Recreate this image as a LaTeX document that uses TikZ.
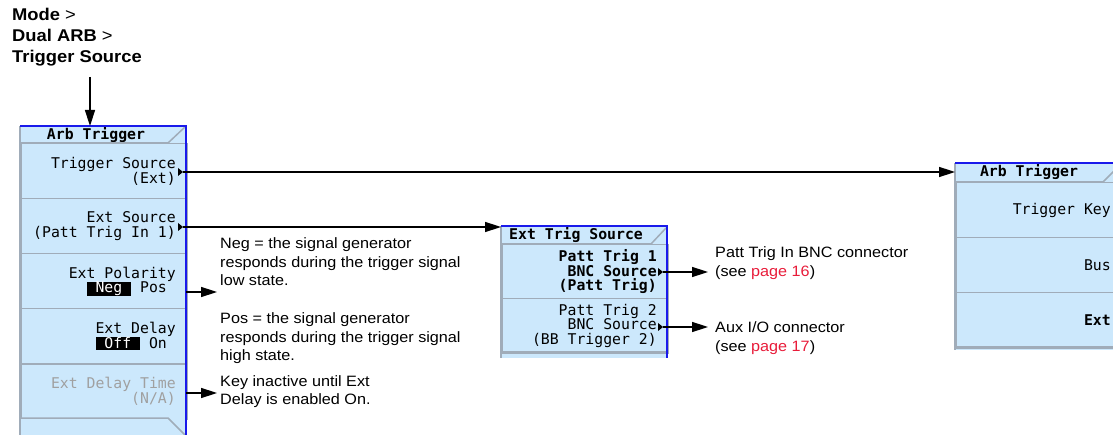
\documentclass[tikz,border=0pt]{standalone}
\usepackage{fontspec}
\setmainfont{Liberation Sans}[FakeStretch=1.08]
\newfontfamily\keyfont{DejaVu Sans Mono}
\usetikzlibrary{arrows.meta}
\definecolor{keyblue}{RGB}{204,232,252}
\definecolor{sepgray}{RGB}{160,172,185}
\definecolor{panelblue}{RGB}{25,25,235}
\definecolor{linkred}{RGB}{232,28,58}
\definecolor{dimtext}{RGB}{160,160,160}
\newcommand\invkey[1]{{\setlength{\fboxsep}{0pt}\colorbox{black}{\rule[-2pt]{0pt}{12pt}\makebox[44.5pt]{\textcolor{white}{#1}}}}}
\begin{document}
\begin{tikzpicture}[x=1pt,y=-1pt,
  keybox/.style={draw=sepgray, line width=1.5pt, fill=keyblue, minimum width=166pt, minimum height=55pt, anchor=north west, inner sep=0pt, text width=144pt, align=flush right, font=\keyfont\fontsize{14.8}{14.5}\selectfont},
  keybold/.style={keybox, font=\keyfont\bfseries\fontsize{14.8}{14.5}\selectfont},
  titlebar/.style={fill=keyblue, minimum width=166pt, minimum height=17pt, anchor=north west, inner sep=0pt},
  titletext/.style={font=\keyfont\bfseries\fontsize{14.8}{14.5}\selectfont, inner sep=0pt},
  sepline/.style={draw=sepgray, line width=1.5pt},
  panelrim/.style={draw=panelblue, line width=2.5pt},
  arr/.style={draw=black, line width=1.5pt, -{Triangle[length=16pt,width=10pt]}},
  notetext/.style={anchor=north west, inner sep=0pt, align=flush left, font=\fontsize{15}{18.5}\selectfont},
]
\useasboundingbox (0,0) rectangle (1113,435);
\clip (0,0) rectangle (1113,435);

% heading
\node[notetext, font=\fontsize{17}{20.75}\selectfont] (hd) at (12,8.3) {\textbf{Mode} >\\\textbf{Dual ARB} >\\\textbf{Trigger Source}};
\coordinate (hdarrow) at (90,77);

% ---------- panel A ----------
\fill[keyblue] (20,126) rectangle (186,436);
\node[titlebar] (tA) at (20,126) {};
\node[titletext] (tAtext) at (96,135) {Arb Trigger};
\node[keybox] (a1) at (20,143) {Trigger Source\\(Ext)};
\node[keybox] (a2) at (20,198) {Ext Source\\(Patt Trig In 1)};
\node[keybox] (a3) at (20,253) {Ext Polarity\\\invkey{Neg} Pos\hphantom{x}};
\node[keybox] (a4) at (20,308) {Ext Delay\\\invkey{Off} On\hphantom{x}};
\node[keybox, text=dimtext] (a5) at (20,363) {Ext Delay Time\\(N/A)};
\fill[keyblue] (20,418) rectangle (186,436);
\draw[sepline] (20,418) -- (168,418) -- (186,436);
\draw[sepline] (20,143) -- (168,143) -- (185,127);
\draw[sepline] (20,126) -- (20,436);
\draw[panelrim] (20,126) -- (186,126) -- (186,436);
\coordinate (ta1) at (183,172);
\coordinate (ta2) at (183,227);
\fill (ta1) -- ++(-5,-4) -- ++(0,8) -- cycle;
\fill (ta2) -- ++(-5,-4) -- ++(0,8) -- cycle;

% ---------- panel B ----------
\fill[keyblue] (501,226) rectangle (667,358);
\node[titlebar, minimum height=18pt] (tB) at (501,226) {};
\node[titletext, anchor=west] (tBtext) at (509,235) {Ext Trig Source};
\node[keybold, minimum height=54pt] (b1) at (501,244) {Patt Trig 1\\BNC Source\\(Patt Trig)};
\node[keybox, minimum height=54pt] (b2) at (501,298) {Patt Trig 2\\BNC Source\\(BB Trigger 2)};
\draw[sepline] (501,352) -- (667,352);
\draw[sepline] (501,244) -- (651,244) -- (666,228);
\draw[sepline] (501,226) -- (501,358);
\draw[panelrim] (501,226) -- (667,226) -- (667,358);
\coordinate (tb1) at (663,272);
\coordinate (tb2) at (663,327);
\fill (tb1) -- ++(-5,-4) -- ++(0,8) -- cycle;
\fill (tb2) -- ++(-5,-4) -- ++(0,8) -- cycle;

% ---------- panel C ----------
\fill[keyblue] (955,163) rectangle (1121,350);
\node[titlebar, minimum height=19pt] (tC) at (955,163) {};
\node[titletext] (tCtext) at (1029,172) {Arb Trigger};
\node[keybox] (c1) at (955,182) {Trigger Key};
\node[keybox] (c2) at (955,237) {Bus};
\node[keybold] (c3) at (955,292) {Ext};
\draw[sepline] (955,347) -- (1121,347);
\draw[sepline] (955,182) -- (1103,182) -- (1121,164);
\draw[sepline] (955,163) -- (955,350);
\draw[panelrim] (955,163) -- (1121,163);

% ---------- notes ----------
\node[notetext] (neg) at (220,237.6) {Neg = the signal generator\\responds during the trigger signal\\low state.};
\node[notetext] (pos) at (220,312.6) {Pos = the signal generator\\responds during the trigger signal\\high state.};
\node[notetext] (inact) at (220,375.3) {Key inactive until Ext\\Delay is enabled On.};
\node[notetext] (patt) at (715,246.6) {Patt Trig In BNC connector\\(see \textcolor{linkred}{page 16})};
\node[notetext] (aux) at (715,321.8) {Aux I/O connector\\(see \textcolor{linkred}{page 17})};

% ---------- connectors ----------
\draw[arr] (hdarrow) -- (hdarrow |- tA.north);
\draw[arr] (ta1) -- (ta1 -| tC.west);
\draw[arr] (ta2) -- (ta2 -| tB.west);
\coordinate (pa3) at (186,292);
\coordinate (pa5) at (186,393);
\draw[arr, shorten >=3pt] (pa3) -- (pa3 -| neg.west);
\draw[arr, shorten >=3pt] (pa5) -- (pa5 -| inact.west);
\draw[arr, shorten >=7pt] (tb1) -- (tb1 -| patt.west);
\draw[arr, shorten >=7pt] (tb2) -- (tb2 -| aux.west);
\end{tikzpicture}
\end{document}
